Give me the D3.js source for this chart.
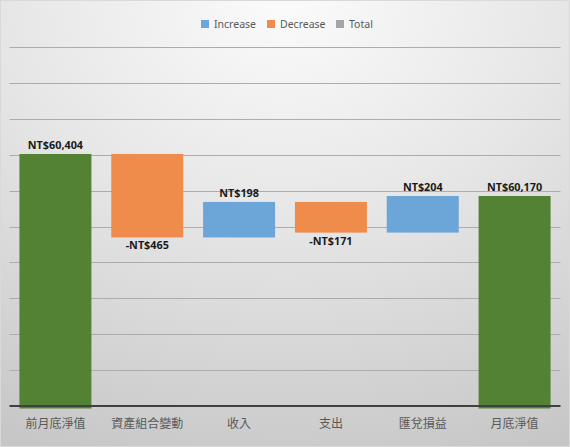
<!DOCTYPE html>
<html>
<head>
<meta charset="utf-8">
<script src="https://cdn.jsdelivr.net/npm/d3@7"></script>
<style>
  html, body { margin: 0; padding: 0; background: #fff; }
  svg { display: block; }
</style>
</head>
<body>
<svg id="chart" width="570" height="447"></svg>
<script>
// Chart data
const categories = ["前月底淨值", "資產組合變動", "收入", "支出", "匯兌損益", "月底淨值"];
const values = [60404, -465, 198, -171, 204, 60170];
const kinds = ["total", "decrease", "increase", "decrease", "increase", "total"];
const legendItems = ["Increase", "Decrease", "Total"];
const yTicks = [59200, 59400, 59600, 59800, 60000, 60200, 60400, 60600, 60800, 61000];

const colors = { increase: "#6ca5d8", decrease: "#ef8c4b", total: "#548235" };
const legendColors = ["#6ca5d8", "#ef8c4b", "#a5a5a5"];

const width = 570, height = 447;
const svg = d3.select("#chart");

// Background gradient
const defs = svg.append("defs");
const grad = defs.append("radialGradient")
  .attr("id", "bg")
  .attr("cx", "50%").attr("cy", "0%")
  .attr("fx", "50%").attr("fy", "0%")
  .attr("r", "110%");
grad.append("stop").attr("offset", "0%").attr("stop-color", "#fbfbfb");
grad.append("stop").attr("offset", "45%").attr("stop-color", "#e6e6e6");
grad.append("stop").attr("offset", "100%").attr("stop-color", "#c6c6c6");

svg.append("rect")
  .attr("x", 0.5).attr("y", 0.5)
  .attr("width", width - 1).attr("height", height - 1)
  .attr("fill", "url(#bg)")
  .attr("stroke", "#d9d9d9");

// Scales
const x = d3.scaleBand()
  .domain(categories)
  .range([9.5, 560.5])
  .paddingInner(0.216)
  .paddingOuter(0.108);

const y = d3.scaleLinear()
  .domain([59000, 61000])
  .range([406, 47]);

// Compute waterfall segments
let running = 0;
const bars = categories.map((c, i) => {
  const v = values[i];
  let lo, hi;
  if (kinds[i] === "total") {
    running = v;
    lo = y.domain()[0]; hi = v;
  } else {
    const start = running;
    running += v;
    lo = Math.min(start, running); hi = Math.max(start, running);
  }
  return { cat: c, value: v, kind: kinds[i], lo, hi };
});

// Gridlines
svg.append("g")
  .selectAll("line")
  .data(yTicks)
  .join("line")
  .attr("x1", x.range()[0]).attr("x2", x.range()[1])
  .attr("y1", d => Math.round(y(d)) + 0.5)
  .attr("y2", d => Math.round(y(d)) + 0.5)
  .attr("stroke", "#acacac")
  .attr("stroke-width", 1);

// Bars
svg.append("g")
  .selectAll("rect")
  .data(bars)
  .join("rect")
  .attr("x", d => x(d.cat))
  .attr("width", x.bandwidth())
  .attr("y", d => y(d.hi))
  .attr("height", d => y(d.lo) - y(d.hi) + (d.kind === "total" ? 2.5 : 0))
  .attr("fill", d => colors[d.kind]);

// Axis line
svg.append("line")
  .attr("x1", x.range()[0]).attr("x2", x.range()[1])
  .attr("y1", y(59000)).attr("y2", y(59000))
  .attr("stroke", "#404040")
  .attr("stroke-width", 2);

// Data labels
const fmt = d3.format(",");
svg.append("g")
  .selectAll("text")
  .data(bars)
  .join("text")
  .attr("x", d => x(d.cat) + x.bandwidth() / 2)
  .attr("y", d => d.value < 0 ? y(d.lo) + 12 : y(d.hi) - 5)
  .attr("text-anchor", "middle")
  .attr("font-family", "'Noto Sans', 'DejaVu Sans', sans-serif")
  .attr("font-weight", "bold")
  .attr("font-size", "10.8px")
  .attr("fill", "#1a1a1a")
  .text(d => (d.value < 0 ? "-" : "") + "NT$" + fmt(Math.abs(d.value)));

// Category labels
svg.append("g")
  .selectAll("text")
  .data(categories)
  .join("text")
  .attr("x", d => x(d) + x.bandwidth() / 2)
  .attr("y", 428)
  .attr("text-anchor", "middle")
  .attr("font-family", "'Noto Sans CJK TC', sans-serif")
  .attr("font-size", "12px")
  .attr("fill", "#595959")
  .text(d => d);

// Legend
const legend = svg.append("g").attr("transform", "translate(201,20)");
const legendX = [0, 66, 135];
legendItems.forEach((name, i) => {
  const g = legend.append("g").attr("transform", `translate(${legendX[i]},0)`);
  g.append("rect")
    .attr("width", 8).attr("height", 8)
    .attr("fill", legendColors[i]);
  g.append("text")
    .attr("x", 13).attr("y", 8)
    .attr("font-family", "'Noto Sans', sans-serif")
    .attr("font-size", "10.5px")
    .attr("fill", "#595959")
    .text(name);
});
</script>
</body>
</html>
